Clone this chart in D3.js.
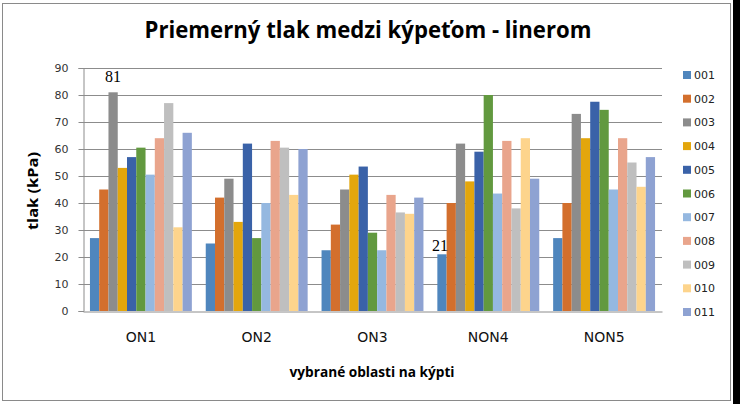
<!DOCTYPE html>
<html><head><meta charset="utf-8">
<script src="https://cdn.jsdelivr.net/npm/d3@7"></script>
<style>html,body{margin:0;padding:0;background:#fff;}svg{display:block;}</style>
</head><body>
<svg id="c" width="740" height="404"></svg>
<script>
const categories = ["ON1","ON2","ON3","NON4","NON5"];
const seriesNames = ["001","002","003","004","005","006","007","008","009","010","011"];
const colors = ["#4f86bd","#d36f2d","#8c8c8c","#e3a60c","#3a62a8","#62993f","#95b8e0","#e9a58c","#bfbfbf","#fdd48c","#8ea2d2"];
// values[series][category]
const s001 = [27, 25, 22.5, 21, 27];
const s002 = [45, 42, 32, 40, 40];
const s003 = [81, 49, 45, 62, 73];
const s004 = [53, 33, 50.5, 48, 64];
const s005 = [57, 62, 53.5, 59, 77.5];
const s006 = [60.5, 27, 29, 80, 74.5];
const s007 = [50.5, 40, 22.5, 43.5, 45];
const s008 = [64, 63, 43, 63, 64];
const s009 = [77, 60.5, 36.5, 38, 55];
const s010 = [31, 43, 36, 64, 46];
const s011 = [66, 60, 42, 49, 57];
const seriesValues = [s001,s002,s003,s004,s005,s006,s007,s008,s009,s010,s011];
const yTicks = [0,10,20,30,40,50,60,70,80,90];
const dataLabels = [{series:"003", cat:"ON1", text:"81"},{series:"001", cat:"NON4", text:"21"}];

(function(){
const svg = d3.select("#c");
// frame
svg.append("rect").attr("x",2.5).attr("y",3.5).attr("width",728).attr("height",397)
  .attr("fill","#fff").attr("stroke","#8a8a8a").attr("stroke-width",1);
svg.append("rect").attr("x",733).attr("y",0).attr("width",7).attr("height",404).attr("fill","#000");

const pL=83, pR=662, pT=68, pB=311;
const x0 = d3.scaleBand().domain(categories).range([pL,pR]).paddingInner(1.5/12.5).paddingOuter(0.75/12.5);
const x1 = d3.scaleBand().domain(seriesNames).range([0,x0.bandwidth()]);
const y = d3.scaleLinear().domain([0,90]).range([pB,pT]);

// gridlines
svg.append("g").selectAll("line").data(yTicks.filter(d=>d>0)).join("line")
  .attr("x1",pL).attr("x2",pR).attr("y1",d=>Math.round(y(d))+0.5).attr("y2",d=>Math.round(y(d))+0.5)
  .attr("stroke","#8c8c8c").attr("stroke-width",1);

// bars
const g = svg.append("g");
seriesNames.forEach((s,i)=>{
  g.append("g").selectAll("rect").data(categories.map((c,j)=>({c,v:seriesValues[i][j]}))).join("rect")
    .attr("x",d=>x0(d.c)+x1(s)).attr("width",x1.bandwidth())
    .attr("y",d=>y(d.v)).attr("height",d=>y(0)-y(d.v)).attr("fill",colors[i]);
});

// y axis
const yAxis = d3.axisLeft(y).tickValues(yTicks).tickSize(5).tickPadding(10);
const ya = svg.append("g").attr("transform",`translate(${pL+0.5},0)`).call(yAxis);
ya.select(".domain").attr("stroke","#8c8c8c");
ya.selectAll(".tick line").attr("stroke","#8c8c8c");
ya.selectAll(".tick text").attr("font-family","DejaVu Sans").attr("font-size",11).attr("fill","#333");
ya.selectAll(".tick").attr("transform",d=>`translate(0,${Math.round(y(d))+0.5})`);

// x axis
const xAxis = d3.axisBottom(x0).tickSize(0).tickPadding(21);
const xa = svg.append("g").attr("transform",`translate(0,${pB+0.5})`).call(xAxis);
xa.select(".domain").attr("stroke","#8c8c8c");
xa.selectAll(".tick text").attr("font-family","DejaVu Sans").attr("font-size",14).attr("fill","#111");

// data labels
const lblOffsets = {"81":-10, "21":-3};
svg.append("g").selectAll("text").data(dataLabels).join("text")
  .attr("x",d=>x0(d.cat)+x1(d.series)+x1.bandwidth()/2 + (d.text==="21"?-2:0))
  .attr("y",d=>y(seriesValues[seriesNames.indexOf(d.series)][categories.indexOf(d.cat)]) + lblOffsets[d.text])
  .attr("text-anchor","middle").attr("font-family","Liberation Serif").attr("font-size",16).attr("fill","#000")
  .text(d=>d.text);

// title
svg.append("text").attr("x",368).attr("y",38).attr("text-anchor","middle")
  .attr("font-family","Open Sans").attr("font-weight","bold").attr("font-size",23)
  .attr("textLength",447).attr("lengthAdjust","spacingAndGlyphs").attr("fill","#000")
  .text("Priemerný tlak medzi kýpeťom - linerom");

// axis titles
svg.append("text").attr("x",372).attr("y",377).attr("text-anchor","middle")
  .attr("font-family","Open Sans").attr("font-weight","bold").attr("font-size",14)
  .attr("textLength",165).attr("lengthAdjust","spacingAndGlyphs").attr("fill","#000")
  .text("vybrané oblasti na kýpti");
svg.append("text").attr("transform","translate(38,191) rotate(-90)").attr("text-anchor","middle")
  .attr("font-family","Open Sans").attr("font-weight","bold").attr("font-size",14)
  .attr("textLength",78).attr("lengthAdjust","spacingAndGlyphs").attr("fill","#000")
  .text("tlak (kPa)");

// legend
const ly = d3.scalePoint().domain(seriesNames).range([75,312]);
const lg = svg.append("g").selectAll("g").data(seriesNames).join("g")
  .attr("transform",d=>`translate(683,${ly(d)})`);
lg.append("rect").attr("x",0).attr("y",-4).attr("width",8).attr("height",8).attr("fill",(d,i)=>colors[i]);
lg.append("text").attr("x",11).attr("y",4).attr("font-family","DejaVu Sans").attr("font-size",11)
  .attr("fill","#222").text(d=>d);
})();
</script>
</body></html>
